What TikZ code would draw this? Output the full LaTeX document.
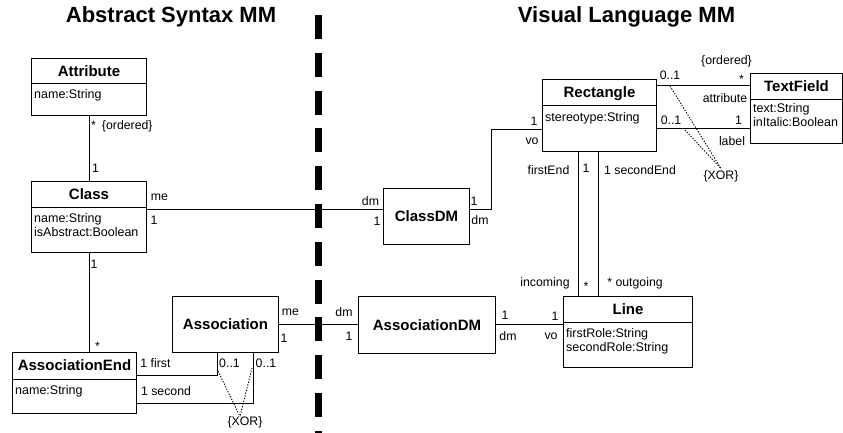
\documentclass[tikz,border=0pt]{standalone}
\usepackage{fontspec}
\setmainfont{Liberation Sans}
\usepackage{tikz}
\tikzset{
  umlbox/.style={draw, line width=1pt, anchor=north west, inner sep=0pt},
  cname/.style={font=\bfseries\fontsize{15}{15}\selectfont, inner sep=0pt, text height=13.6pt, text depth=3pt},
  attr/.style={font=\fontsize{12.5}{14}\selectfont, inner sep=0pt, anchor=base west},
  lbl/.style={font=\fontsize{12.3}{12.3}\selectfont, inner sep=0pt},
  heading/.style={font=\bfseries\fontsize{22}{22}\selectfont, inner sep=0pt, anchor=base},
  assoc/.style={line width=1pt},
  xorline/.style={line width=0.9pt, dash pattern=on 1.3pt off 1.5pt},
  divider/.style={line width=6.5pt, dash pattern=on 24pt off 13.8pt},
}

\begin{document}
\begin{tikzpicture}[x=1pt,y=-1pt]
	\useasboundingbox (0,0) rectangle (843,433);
	\node[heading] (astitle) at (171,23) {Abstract Syntax MM};
	\node[heading] (vltitle) at (626.5,23) {Visual Language MM};
	\draw[divider] (318.5,15) -- (318.5,433);

	\node[umlbox, minimum width=115, minimum height=57] (attribute) at (31,58) {};
	\node[umlbox, minimum width=115, minimum height=71] (class) at (31,181) {};
	\node[umlbox, minimum width=124, minimum height=61] (assocend) at (12,352) {};
	\node[umlbox, cname, minimum width=106, minimum height=56] (association) at (172,296) {Association};
	\node[umlbox, cname, minimum width=86, minimum height=56] (classdm) at (383,188) {ClassDM};
	\node[umlbox, cname, minimum width=137, minimum height=57] (assocdm) at (358,296) {AssociationDM};
	\node[umlbox, minimum width=114, minimum height=72] (rectangle) at (542,79) {};
	\node[umlbox, minimum width=92, minimum height=70] (textfield) at (750,73) {};
	\node[umlbox, minimum width=129, minimum height=71] (line) at (563,296) {};

	\draw[assoc] (attribute.west |- 0,84) -- (attribute.east |- 0,84);
	\draw[assoc] (class.west |- 0,207) -- (class.east |- 0,207);
	\draw[assoc] (assocend.west |- 0,379) -- (assocend.east |- 0,379);
	\draw[assoc] (rectangle.west |- 0,106) -- (rectangle.east |- 0,106);
	\draw[assoc] (textfield.west |- 0,100) -- (textfield.east |- 0,100);
	\draw[assoc] (line.west |- 0,322) -- (line.east |- 0,322);

	\node[cname] (attributehd) at (attribute.north |- 0,71) {Attribute};
	\node[cname] (classhd) at (class.north |- 0,194) {Class};
	\node[cname] (assocendhd) at (assocend.north |- 0,365.5) {AssociationEnd};
	\node[cname] (rectanglehd) at (rectangle.north |- 0,92.5) {Rectangle};
	\node[cname] (textfieldhd) at (textfield.north |- 0,86.5) {TextField};
	\node[cname] (linehd) at (line.north |- 0,309) {Line};

	\node[attr] (attributea) at (34,99) {name:String};
	\node[attr] (classa) at (34,222) {name:String};
	\node[attr] (classb) at (34,236) {isAbstract:Boolean};
	\node[attr] (assocenda) at (15,394) {name:String};
	\node[attr] (rectanglea) at (545,122) {stereotype:String};
	\node[attr] (textfielda) at (753,113) {text:String};
	\node[attr] (textfieldb) at (753,127) {inItalic:Boolean};
	\node[attr] (linea) at (566,337) {firstRole:String};
	\node[attr] (lineb) at (566,351) {secondRole:String};

	\draw[assoc] (attribute.south) -- (class.north);
	\draw[assoc] (class.south) -- (class.south |- assocend.north);
	\draw[assoc] (class.east |- 0,209) -- (classdm.west |- 0,209);
	\draw[assoc] (classdm.east |- 0,209) -| (491,130) -- (rectangle.west |- 0,130);
	\draw[assoc] (association.east |- 0,324) -- (assocdm.west |- 0,324);
	\draw[assoc] (assocdm.east |- 0,324) -- (line.west |- 0,324);
	\draw[assoc] (rectangle.east |- 0,86) -- (textfield.west |- 0,86);
	\draw[assoc] (rectangle.east |- 0,129) -- (textfield.west |- 0,129);
	\draw[assoc] (rectangle.south -| 578,0) -- (line.north -| 578,0);
	\draw[assoc] (rectangle.south -| 598,0) -- (line.north -| 598,0);
	\draw[assoc] (assocend.east |- 0,375) -| (association.south -| 217,0);
	\draw[assoc] (assocend.east |- 0,403) -| (association.south -| 253,0);

	\node[lbl, anchor=west] (attrmany) at (91,126) {*\hspace{6pt}\{ordered\}};
	\node[lbl] (attrone) at (95.5,168) {1};
	\node[lbl] (clsme) at (159.5,197.5) {me};
	\node[lbl] (clsone) at (154,220) {1};
	\node[lbl] (cdmdm) at (370.5,201.5) {dm};
	\node[lbl] (cdmone) at (377,221) {1};
	\node[lbl] (cdmtop) at (474,201.5) {1};
	\node[lbl] (cdmdmb) at (480,220) {dm};
	\node[lbl] (rectone) at (534,121) {1};
	\node[lbl] (rectvo) at (532,141) {vo};
	\node[lbl] (attzo) at (670,75.5) {0..1};
	\node[lbl] (attord) at (726.5,61.5) {\{ordered\}};
	\node[lbl] (attmany) at (741.5,79.5) {*};
	\node[lbl] (attrole) at (725,98) {attribute};
	\node[lbl] (labzo) at (671,120.5) {0..1};
	\node[lbl] (labone) at (738.5,120.5) {1};
	\node[lbl] (labrole) at (732,141.5) {label};
	\node[lbl] (firstrole) at (548.5,170) {firstEnd};
	\node[lbl] (firstone) at (586,168.5) {1};
	\node[lbl] (secondrole) at (640,170) {1 secondEnd};
	\node[lbl] (inrole) at (545,283) {incoming};
	\node[lbl] (inmany) at (586,286.5) {*};
	\node[lbl] (outrole) at (635,283) {* outgoing};
	\node[lbl] (admone) at (505,315) {1};
	\node[lbl] (admdm) at (508,336) {dm};
	\node[lbl] (lineone) at (555,316) {1};
	\node[lbl] (linevo) at (551,336) {vo};
	\node[lbl] (asme) at (290.5,312.5) {me};
	\node[lbl] (asone) at (284,338) {1};
	\node[lbl] (admdmb) at (344,312.5) {dm};
	\node[lbl] (admoneb) at (349,336) {1};
	\node[lbl] (clsoneb) at (94,264) {1};
	\node[lbl] (endmany) at (97.5,346.5) {*};
	\node[lbl] (endfirst) at (155.5,363) {1 first};
	\node[lbl] (endsecond) at (166,391.5) {1 second};
	\node[lbl] (aszo) at (229.5,363) {0..1};
	\node[lbl] (aszob) at (266,363) {0..1};

	\node[lbl] (xorleft) at (245,422.5) {\{XOR\}};
	\node[lbl] (xorright) at (721,176.5) {\{XOR\}};
	\coordinate (xfirst) at (218,371);
	\coordinate (xsecond) at (252,368);
	\coordinate (xattr) at (670,86);
	\coordinate (xlabel) at (685,130);
	\draw[xorline] (xfirst) -- ([xshift=-5pt]xorleft.north);
	\draw[xorline] (xsecond) -- ([xshift=-5pt]xorleft.north);
	\draw[xorline] (xattr) -- ([yshift=2pt]xorright.north);
	\draw[xorline] (xlabel) -- ([yshift=2pt]xorright.north);
\end{tikzpicture}
\end{document}
